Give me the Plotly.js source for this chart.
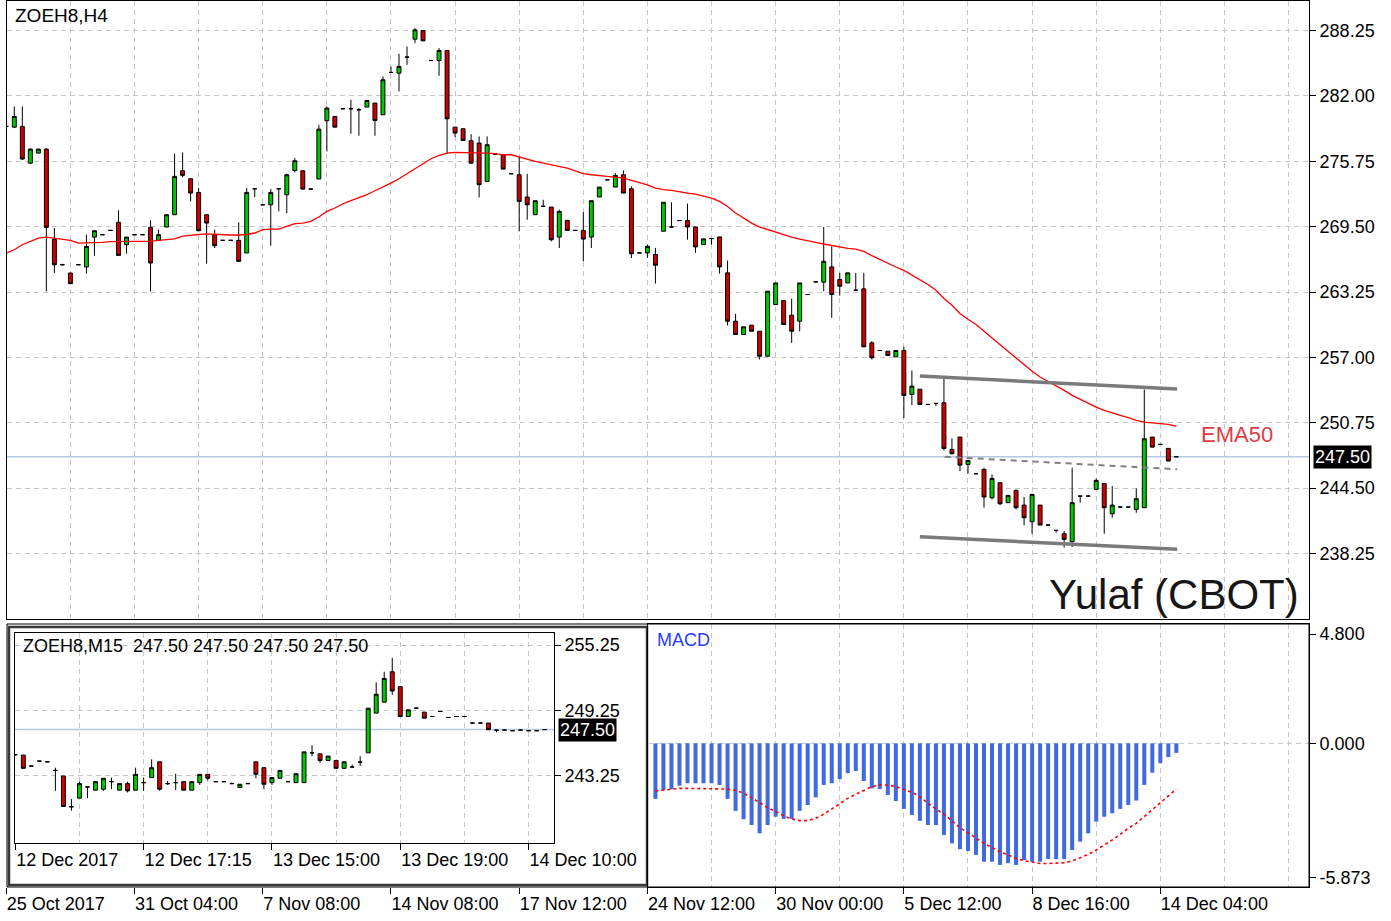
<!DOCTYPE html>
<html><head><meta charset="utf-8">
<script src="https://cdn.plot.ly/plotly-3.0.1.min.js"></script>
<style>html,body{margin:0;padding:0;background:#fff}</style>
</head><body><div id="chart" style="width:1391px;height:921px"></div>
<script>
// ---------------- DATA ----------------
const symbolMain = 'ZOEH8,H4';
const symbolInset = 'ZOEH8,M15';
const chartTitle = 'Yulaf (CBOT)';
const emaLabel = 'EMA50';
const macdLabel = 'MACD';

// Main H4 candles (bar index 0..146)
const mainOpen = [
279.08,279.01,279.08,275.57,276.53,276.91,268.31,265.86,265.07,265.86,
265.64,268.50,268.73,269.14,269.91,267.77,268.73,268.73,269.43,268.19,
269.46,270.64,274.84,274.08,272.77,270.64,268.73,268.19,268.19,268.19,
266.98,273.12,271.59,271.59,273.12,272.55,274.87,274.84,273.09,274.05,
279.62,280.03,280.77,280.77,280.67,280.93,281.31,280.19,284.24,284.17,
285.70,287.42,288.25,285.38,285.38,286.34,279.01,278.86,277.71,277.49,
273.82,276.44,276.37,274.56,274.46,272.33,270.64,271.44,271.37,268.50,
270.10,269.14,269.14,268.50,272.33,273.98,273.28,274.46,273.12,266.99,
266.99,266.83,269.06,269.47,270.08,270.08,269.47,267.78,268.36,268.52,
265.08,260.46,259.19,260.08,259.50,257.11,262.05,262.43,261.03,260.46,
263.01,264.22,264.19,265.65,264.44,264.12,263.42,263.55,258.39,257.66,
257.59,257.05,257.66,253.46,253.96,252.50,252.60,252.66,248.20,249.38,
246.77,245.88,246.29,243.58,245.02,243.11,244.28,242.88,241.29,242.88,
240.97,240.46,240.14,239.38,243.74,243.74,244.38,244.95,242.05,242.69,
242.69,242.47,242.63,249.38,248.68,248.30,247.50];
const mainHigh = [
279.10,280.99,280.99,277.01,276.95,277.01,269.36,265.95,265.07,265.90,
268.73,269.11,268.76,269.17,271.05,268.50,268.76,268.76,270.10,269.21,
270.64,276.47,276.59,274.08,273.19,270.64,269.21,268.22,268.22,269.91,
273.19,273.12,271.62,273.09,273.12,274.56,276.05,274.84,273.12,279.24,
280.99,280.03,280.80,281.63,280.83,281.56,281.31,283.86,284.81,286.02,
286.72,288.47,288.25,285.41,286.56,286.34,279.01,278.86,278.35,278.12,
278.12,276.47,276.37,274.59,276.21,274.56,271.98,272.07,271.37,271.12,
270.10,269.17,270.89,271.98,273.28,274.01,274.62,274.88,273.35,267.02,
267.78,267.47,271.83,271.83,270.11,271.70,269.47,268.33,268.36,268.52,
266.26,261.16,259.92,260.08,259.50,263.33,264.12,262.43,262.62,264.12,
263.04,264.25,269.47,267.62,265.08,265.08,265.08,265.08,258.55,257.69,
257.59,257.66,258.01,255.75,253.96,252.53,252.60,255.11,249.25,249.38,
247.15,245.91,246.45,245.81,245.02,243.81,244.38,243.65,243.97,242.88,
241.00,240.46,240.40,246.45,243.74,243.77,245.43,244.95,244.70,242.72,
242.72,244.47,253.93,249.38,248.71,248.30,247.53];
const mainLow = [
279.06,278.92,275.89,275.51,276.50,263.31,265.07,265.80,264.05,265.82,
265.00,266.72,268.70,269.11,266.72,266.91,268.70,268.70,263.31,268.19,
269.46,270.64,274.21,271.91,269.05,265.96,267.45,268.16,268.16,266.18,
266.98,272.33,271.56,267.68,270.96,270.80,274.68,273.03,273.06,274.05,
276.69,279.01,280.74,278.38,278.19,280.93,278.19,280.19,284.24,282.42,
284.97,287.04,287.26,285.35,283.92,276.47,278.06,277.74,275.51,272.30,
273.82,276.41,275.00,274.53,269.05,270.16,270.64,271.44,268.09,267.45,
269.14,269.11,266.18,267.45,272.33,273.95,273.28,272.71,266.50,266.96,
266.51,264.06,269.06,269.47,270.05,268.26,266.99,267.78,267.78,265.01,
260.05,259.19,259.19,259.50,256.80,257.11,262.05,260.14,258.39,259.50,
262.98,264.19,263.33,260.78,262.91,264.12,263.42,258.01,256.80,257.63,
257.18,257.05,251.20,252.44,252.50,252.47,252.34,248.11,247.72,246.13,
245.88,245.85,242.63,243.42,242.88,243.11,242.47,240.94,240.14,240.97,
240.94,240.24,238.81,238.87,243.11,243.71,244.38,240.14,241.67,242.66,
242.66,242.15,242.63,248.42,248.65,247.09,247.47];
const mainClose = [
279.08,280.03,275.96,276.91,276.91,269.43,265.86,265.86,264.05,265.86,
267.61,269.11,268.73,269.14,266.75,268.50,268.73,268.73,266.02,268.73,
270.64,274.30,274.40,272.71,269.11,269.84,267.68,268.19,268.19,266.18,
272.77,273.12,271.59,272.77,273.12,274.46,275.80,273.09,273.09,278.82,
280.83,279.01,280.77,280.77,280.67,281.56,279.65,283.54,284.24,284.81,
285.70,288.31,287.26,285.38,286.34,279.81,278.44,277.74,275.57,273.51,
277.33,276.44,275.00,274.56,271.91,271.59,271.98,271.44,268.25,270.96,
269.14,269.14,268.31,271.98,273.28,273.98,274.40,272.71,266.91,266.99,
267.62,265.81,271.83,269.47,270.08,269.47,267.56,268.33,268.36,265.65,
260.46,259.19,259.92,259.50,257.11,263.33,264.12,260.14,259.50,264.12,
263.01,264.22,266.19,263.01,263.80,265.08,263.42,258.01,256.96,257.66,
257.18,257.66,253.36,254.25,252.50,252.50,252.60,248.30,247.79,246.70,
247.15,245.88,243.65,245.43,243.01,243.81,242.63,241.67,243.90,240.97,
240.97,240.46,239.60,243.11,243.74,243.74,245.24,242.63,242.88,242.69,
242.69,243.49,249.22,248.42,248.68,247.09,247.50];
const ema50 = [
266.98,267.29,267.77,268.09,268.41,268.50,268.38,268.25,268.19,267.93,
267.93,267.93,268.00,268.06,268.09,268.09,268.09,268.09,268.09,268.19,
268.25,268.32,268.60,268.70,268.75,268.80,268.75,268.70,268.70,268.70,
268.75,268.89,269.21,269.27,269.27,269.52,269.78,269.84,270.00,270.42,
270.96,271.28,271.69,271.98,272.23,272.55,272.93,273.28,273.66,274.08,
274.56,275.10,275.57,275.99,276.31,276.53,276.59,276.59,276.59,276.59,
276.53,276.47,276.37,276.37,276.15,275.96,275.73,275.57,275.42,275.26,
275.10,274.84,274.56,274.46,274.36,274.30,274.24,274.14,273.92,273.73,
273.50,273.19,273.03,272.96,272.87,272.71,272.61,272.45,272.23,271.91,
271.43,270.80,270.32,269.84,269.46,269.21,268.95,268.73,268.50,268.31,
268.19,268.00,267.84,267.68,267.55,267.42,267.36,267.14,266.72,266.34,
265.96,265.64,265.32,264.89,264.41,263.97,263.43,262.63,261.99,261.19,
260.65,260.14,259.50,258.86,258.16,257.58,256.94,256.30,255.67,255.12,
254.71,254.32,253.85,253.37,252.98,252.63,252.25,251.93,251.67,251.45,
251.23,250.97,250.81,250.75,250.65,250.59,250.43];
const mainTickBars = [0,16,32,48,64,80,96,112,128,144];
const mainTickLabels = ['25 Oct 2017','31 Oct 04:00','7 Nov 08:00','14 Nov 08:00','17 Nov 12:00',
  '24 Nov 12:00','30 Nov 00:00','5 Dec 12:00','8 Dec 16:00','14 Dec 04:00'];
const priceTicks = [238.25,244.50,250.75,257.00,263.25,269.50,275.75,282.00,288.25];

// Drawn channel lines (bar index, price)
const channelUpperX = [114.0,146.1], channelUpperY = [255.22,253.97];
const channelLowerX = [114.0,146.1], channelLowerY = [239.86,238.65];
const channelMidX = [117.1,146.1], channelMidY = [247.50,246.30];

// MACD (bars 81..146)
const macdFirstBar = 81;
const macdMain = [
-2.27,-1.91,-1.87,-1.73,-1.63,-1.63,-1.63,-1.63,-1.70,-2.27,
-2.76,-3.10,-3.34,-3.68,-3.34,-3.00,-3.09,-3.09,-2.76,-2.52,
-2.21,-1.70,-1.63,-1.46,-1.22,-1.13,-1.54,-1.84,-1.87,-2.11,
-2.36,-2.68,-2.93,-3.17,-3.34,-3.34,-3.75,-4.09,-4.33,-4.40,
-4.56,-4.84,-4.84,-4.97,-4.90,-4.97,-4.77,-4.84,-4.84,-4.73,
-4.73,-4.73,-4.36,-4.02,-3.68,-3.20,-3.00,-2.86,-2.68,-2.52,
-2.34,-1.70,-1.20,-0.81,-0.56,-0.39];
const macdSignal = [
-1.95,-1.91,-1.87,-1.84,-1.84,-1.84,-1.84,-1.84,-1.84,-1.87,
-1.92,-2.04,-2.22,-2.42,-2.63,-2.79,-2.96,-3.09,-3.16,-3.16,
-3.06,-2.90,-2.68,-2.45,-2.25,-2.08,-1.91,-1.77,-1.70,-1.70,
-1.77,-1.87,-2.00,-2.18,-2.45,-2.68,-2.90,-3.17,-3.45,-3.65,
-3.88,-4.09,-4.26,-4.43,-4.56,-4.70,-4.80,-4.86,-4.91,-4.91,
-4.91,-4.88,-4.81,-4.67,-4.54,-4.36,-4.16,-3.95,-3.72,-3.47,
-3.27,-2.99,-2.72,-2.45,-2.14,-1.87];
const macdScaleMax = 4.800, macdScaleMin = -5.873;

// Inset M15 candles (bar index 0..66)
const insOpen = [
245.20,245.16,244.16,244.61,244.55,243.76,243.25,240.43,241.22,242.25,
241.95,242.04,242.73,241.95,242.55,241.95,242.64,243.10,244.55,242.55,
242.64,242.73,241.95,242.64,243.40,242.73,242.73,242.55,242.19,242.55,
244.55,244.01,242.64,243.04,242.73,242.64,242.64,245.37,245.28,244.67,
244.67,243.95,244.07,244.52,245.37,249.01,250.01,252.80,251.43,248.70,
249.46,249.10,248.70,249.16,248.61,248.70,248.70,248.10,248.10,248.10,
247.45,247.45,247.40,247.45,247.40,247.40,247.50];
const insHigh = [
245.25,245.20,244.19,244.64,244.58,244.01,243.25,241.13,242.73,242.25,
242.73,243.04,243.10,242.55,242.73,244.01,243.10,244.77,244.55,242.79,
243.46,242.73,242.73,243.40,243.40,242.76,242.76,242.65,242.49,242.58,
244.55,244.01,243.10,243.76,242.76,243.46,245.46,246.07,245.28,245.07,
244.67,244.55,244.30,245.07,249.46,251.83,252.80,254.07,251.43,249.31,
249.49,249.10,248.73,249.19,248.64,248.73,248.73,248.13,248.13,248.10,
247.45,247.48,247.43,247.48,247.43,247.43,247.50];
const insLow = [
245.15,243.95,244.13,244.58,244.52,241.89,240.46,240.07,241.22,241.22,
241.95,241.89,242.04,241.95,241.74,241.95,241.89,243.10,241.89,242.43,
241.95,241.95,241.95,242.43,242.86,242.70,242.70,242.55,242.19,242.52,
243.04,242.04,242.43,243.04,242.70,242.64,242.64,245.07,244.46,244.67,
243.95,243.95,244.07,244.16,245.37,249.01,250.01,250.68,248.70,248.70,
249.43,248.55,248.67,249.13,248.58,248.67,248.67,248.07,248.07,247.49,
247.25,247.42,247.37,247.42,247.37,247.37,247.50];
const insClose = [
245.20,243.95,244.16,244.61,244.55,243.76,240.46,240.43,242.55,242.25,
242.73,243.04,242.73,242.55,241.89,243.40,242.64,244.01,242.04,242.55,
242.64,241.95,242.73,243.40,243.04,242.73,242.73,242.55,242.49,242.55,
243.40,242.49,243.10,243.76,242.73,243.46,245.46,245.37,244.67,245.07,
243.95,244.55,244.07,244.52,249.46,250.74,252.19,251.04,248.70,249.31,
249.46,248.55,248.70,249.16,248.61,248.70,248.70,248.10,248.10,247.49,
247.45,247.45,247.40,247.45,247.40,247.40,247.50];
const insTickBars = [0,16,32,48,64];
const insTickLabels = ['12 Dec 2017','12 Dec 17:15','13 Dec 15:00','13 Dec 19:00','14 Dec 10:00'];
const insPriceTicks = [243.25,249.25,255.25];

// ---------------- LAYOUT HELPERS ----------------
const W = 1391, H = 921;
const PX = x => x / W, PY = y => 1 - y / H;
const BAR0 = 6.3, BARW = 8.014;       // main bar geometry (px)
const IBAR0 = 15.3, IBARW = 8.02;     // inset bar geometry (px)
const pxToBar = x => (x - BAR0) / BARW;
const FONT = 'Liberation Sans, Arial, sans-serif';
const FS = 18;
const GRID = {showgrid:true, gridcolor:'#c6c6c6', griddash:'5px,4px', gridwidth:1};
const fmt = v => v.toFixed(2);

const mainIdx = mainClose.map((_, i) => i);
const insIdx = insClose.map((_, i) => i);
const macdIdx = macdMain.map((_, i) => macdFirstBar + i);
const lastClose = mainClose[mainClose.length - 1];
const insLast = insClose.length - 1;

const candleStyle = {
  increasing:{line:{color:'#000', width:1}, fillcolor:'#00c800'},
  decreasing:{line:{color:'#000', width:1}, fillcolor:'#d00000'},
  whiskerwidth:0, hoverinfo:'skip'
};

const traces = [
  Object.assign({type:'candlestick', x:mainIdx, open:mainOpen, high:mainHigh, low:mainLow, close:mainClose,
    xaxis:'x', yaxis:'y'}, candleStyle),
  {type:'scatter', mode:'lines', x:mainIdx, y:ema50, xaxis:'x', yaxis:'y',
    line:{color:'#ff0000', width:1.3}, hoverinfo:'skip'},
  {type:'scatter', mode:'lines', x:channelUpperX, y:channelUpperY, xaxis:'x', yaxis:'y',
    line:{color:'#7a7a7a', width:3.5}, hoverinfo:'skip'},
  {type:'scatter', mode:'lines', x:channelLowerX, y:channelLowerY, xaxis:'x', yaxis:'y',
    line:{color:'#7a7a7a', width:3.5}, hoverinfo:'skip'},
  {type:'scatter', mode:'lines', x:channelMidX, y:channelMidY, xaxis:'x', yaxis:'y',
    line:{color:'#808080', width:2, dash:'6px,5px'}, hoverinfo:'skip'},
  {type:'bar', x:macdIdx, y:macdMain, xaxis:'x2', yaxis:'y2', width:0.5,
    marker:{color:'#4169e1', line:{width:0}}, hoverinfo:'skip'},
  {type:'scatter', mode:'lines', x:macdIdx, y:macdSignal, xaxis:'x2', yaxis:'y2',
    line:{color:'#ff0000', width:1.6, dash:'3px,3px'}, hoverinfo:'skip'},
  Object.assign({type:'candlestick', x:insIdx, open:insOpen, high:insHigh, low:insLow, close:insClose,
    xaxis:'x3', yaxis:'y3'}, candleStyle),
  {type:'scatter', mode:'markers', x:[mainTickBars[0]], y:[0], xaxis:'x4', yaxis:'y2',
    marker:{opacity:0, size:1}, hoverinfo:'skip'}
];

const layout = {
  width:W, height:H, margin:{l:0, r:0, t:0, b:0},
  paper_bgcolor:'#ffffff', plot_bgcolor:'rgba(0,0,0,0)', showlegend:false, hovermode:false,
  font:{family:FONT, size:FS, color:'#000'},
  boxgap:0.3,
  xaxis:Object.assign({domain:[PX(7), PX(1309)], range:[pxToBar(7), pxToBar(1309)], anchor:'y',
    tick0:0, dtick:8, showticklabels:false, ticks:'', showline:true, mirror:true, linecolor:'#000',
    linewidth:1, zeroline:false, rangeslider:{visible:false}, fixedrange:true}, GRID),
  yaxis:Object.assign({domain:[PY(619), PY(1)], range:[231.99, 291.07], anchor:'x', side:'right',
    tickvals:priceTicks, tickformat:'.2f', ticks:'outside', ticklen:6, tickcolor:'#000',
    showline:true, mirror:true, linecolor:'#000', linewidth:1, zeroline:false, fixedrange:true}, GRID),
  xaxis2:Object.assign({domain:[PX(648), PX(1309)], range:[pxToBar(648), pxToBar(1309)], anchor:'y2',
    tick0:0, dtick:8, showticklabels:false, ticks:'', showline:true, mirror:true, linecolor:'#000',
    zeroline:false, fixedrange:true}, GRID),
  yaxis2:{domain:[PY(887), PY(624)], range:[macdScaleMin, macdScaleMax + 0.08], anchor:'x2', side:'right',
    tickvals:[macdScaleMax - 0.33, 0, macdScaleMin + 0.37],
    ticktext:[macdScaleMax.toFixed(3), '0.000', macdScaleMin.toFixed(3)],
    ticks:'outside', ticklen:6, tickcolor:'#000', showgrid:false, zeroline:false,
    showline:true, mirror:true, linecolor:'#000', fixedrange:true},
  xaxis3:Object.assign({domain:[PX(14.9), PX(554)], range:[-0.05, (554 - IBAR0) / IBARW], anchor:'y3',
    tickvals:insTickBars, ticktext:insTickLabels, ticks:'outside', ticklen:6, tickcolor:'#000',
    ticklabelposition:'outside right',
    minor:{tick0:0, dtick:8, showgrid:true, gridcolor:'#c6c6c6', griddash:'5px,4px', ticks:''},
    showline:true, mirror:true, linecolor:'#000', zeroline:false, rangeslider:{visible:false},
    fixedrange:true}, GRID),
  yaxis3:Object.assign({domain:[PY(843), PY(633)], range:[237.11, 256.35], anchor:'x3', side:'right',
    tickvals:insPriceTicks, tickformat:'.2f', ticks:'outside', ticklen:6, tickcolor:'#000',
    showline:true, mirror:true, linecolor:'#000', zeroline:false, fixedrange:true}, GRID),
  xaxis4:{domain:[PX(5.5), PX(1309)], range:[-0.1, pxToBar(1309)], anchor:'y2',
    tickvals:mainTickBars, ticktext:mainTickLabels, ticks:'outside', ticklen:6, tickcolor:'#000',
    ticklabelposition:'outside right', showgrid:false, showline:false, zeroline:false, fixedrange:true},
  shapes:[
    {type:'rect', xref:'paper', yref:'paper', x0:PX(7), x1:PX(1309), y0:PY(887), y1:PY(624),
      line:{color:'#000', width:1}},
    {type:'rect', xref:'paper', yref:'paper', x0:PX(9), x1:PX(647), y0:PY(885), y1:PY(627),
      line:{color:'#3a3a3a', width:2.5}, fillcolor:'#ffffff', layer:'below'},
    {type:'line', xref:'x domain', yref:'y', x0:0, x1:1, y0:lastClose, y1:lastClose,
      line:{color:'#b4c8e4', width:1.5}, layer:'below'},
    {type:'line', xref:'x3 domain', yref:'y3', x0:0, x1:1, y0:insClose[insLast], y1:insClose[insLast],
      line:{color:'#b4c8e4', width:1.5}, layer:'below'},
    {type:'line', xref:'x2 domain', yref:'y2', x0:0, x1:1, y0:0, y1:0,
      line:{color:'#c6c6c6', width:1, dash:'5px,4px'}, layer:'below'}
  ],
  annotations:[
    {xref:'paper', yref:'paper', x:PX(13), y:PY(15), xanchor:'left', yanchor:'middle', showarrow:false,
      text:symbolMain, font:{size:19, color:'#000'}},
    {xref:'paper', yref:'paper', x:PX(1047), y:PY(594), xanchor:'left', yanchor:'middle', showarrow:false,
      text:chartTitle, font:{size:42, color:'#161616'}},
    {xref:'paper', yref:'paper', x:PX(1199), y:PY(434), xanchor:'left', yanchor:'middle', showarrow:false,
      text:emaLabel, font:{size:22, color:'#dc3c46'}},
    {xref:'paper', yref:'y', x:PX(1313), y:lastClose, xanchor:'left', yanchor:'middle', showarrow:false,
      text:fmt(lastClose), bgcolor:'#000', borderpad:1, font:{size:FS, color:'#fff'}},
    {xref:'paper', yref:'paper', x:PX(655), y:PY(640), xanchor:'left', yanchor:'middle', showarrow:false,
      text:macdLabel, font:{size:FS, color:'#1f3dff'}},
    {xref:'paper', yref:'paper', x:PX(21), y:PY(646), xanchor:'left', yanchor:'middle', showarrow:false,
      text:symbolInset + '\u00a0\u00a0' + [insOpen[insLast], insHigh[insLast], insLow[insLast], insClose[insLast]].map(fmt).join(' '),
      font:{size:FS, color:'#000'}},
    {xref:'paper', yref:'y3', x:PX(558), y:insClose[insLast], xanchor:'left', yanchor:'middle', showarrow:false,
      text:fmt(insClose[insLast]), bgcolor:'#000', borderpad:1, font:{size:FS, color:'#fff'}}
  ]
};

Plotly.newPlot('chart', traces, layout, {staticPlot:true, displayModeBar:false});
</script>
</body></html>
